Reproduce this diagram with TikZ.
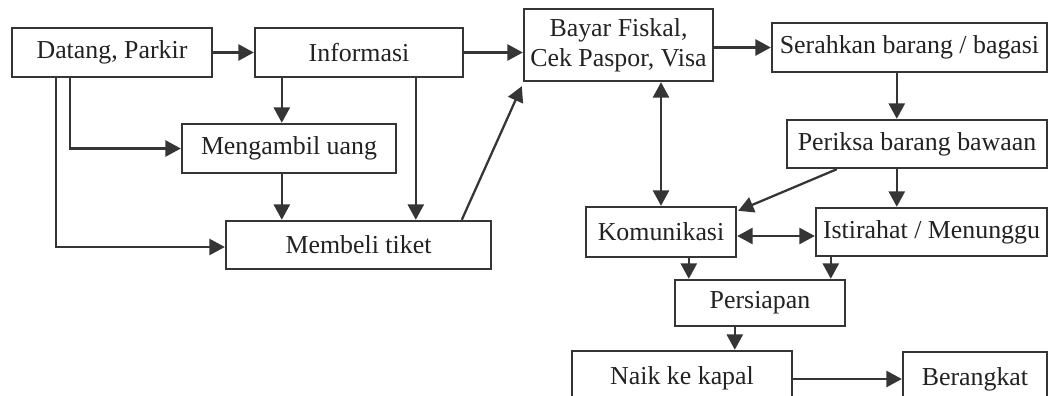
\documentclass[tikz,border=0pt]{standalone}
\usepackage{fontspec}
\setmainfont{Liberation Serif}
\usetikzlibrary{arrows.meta,calc}
\definecolor{ink}{HTML}{353535}
\definecolor{txt}{HTML}{222222}
\tikzset{
  bx/.style 2 args={draw=ink, line width=1.8pt, text=txt, inner sep=2pt, align=center,
    minimum width=#1*0.75pt, minimum height=#2*0.75pt,
    font=\fontsize{19.4}{22.5}\selectfont},
  tip/.tip={Triangle[length=11.5pt,width=12pt]},
  arr/.style={draw=ink, line width=1.7pt, -tip},
  darr/.style={draw=ink, line width=1.7pt, tip-tip}
}
\begin{document}
\begin{tikzpicture}[x=0.75pt,y=-0.75pt]
\useasboundingbox (0,0) rectangle (1050,396);
\clip (0,0) rectangle (1050,396);
\fill[white] (0,0) rectangle (1050,396);
% nodes
\node[bx={200}{49}] (dat) at (112,52.5) {Datang, Parkir};
\node[bx={208}{49}] (inf) at (359,52.5) {Informasi};
\node[bx={214}{49}] (ma) at (289,148.5) {Mengambil uang};
\node[bx={265}{48}] (mt) at (358.5,245) {Membeli tiket};
\node[bx={189}{72}] (bay) at (618.5,45) {Bayar Fiskal,\\Cek Paspor, Visa};
\node[bx={275}{49}] (ser) at (909.5,47.5) {Serahkan barang / bagasi};
\node[bx={260}{48}] (per) at (917,144) {Periksa barang bawaan};
\node[bx={150}{50}] (kom) at (661,232) {Komunikasi};
\node[bx={231}{48}] (ist) at (931.5,232) {Istirahat / Menunggu};
\node[bx={170}{46}] (psp) at (760,303) {Persiapan};
\node[bx={220}{55}] (naik) at (682,378.5) {Naik ke kapal};
\node[bx={144}{54}] (ber) at (975,379) {Berangkat};
% helper coordinates
\coordinate (d1) at ($(dat.south west)+(45,0)$);
\coordinate (d2) at ($(dat.south west)+(59,0)$);
\coordinate (i1) at ($(inf.south west)+(28,0)$);
\coordinate (i2) at ($(inf.south west)+(162,0)$);
\coordinate (m1) at ($(mt.north west)+(237,0)$);
\coordinate (mw) at ($(mt.west)+(0,2)$);
\coordinate (bsw) at ($(bay.south west)+(-1,4)$);
\coordinate (s1) at ($(ser.south west)+(126,0)$);
\coordinate (p1) at ($(per.south west)+(51,0)$);
\coordinate (p2) at ($(per.south west)+(111,0)$);
\coordinate (kne) at ($(kom.north east)+(1,5)$);
\coordinate (ke) at ($(kom.east)+(0,4)$);
\coordinate (k1) at ($(kom.south west)+(104,0)$);
\coordinate (t1) at ($(ist.south west)+(16,0)$);
\coordinate (q1) at ($(psp.south west)+(61,0)$);
% connectors
\draw[arr] (dat.east) -- (inf.west);
\draw[arr] (inf.east) -- (inf.east -| bay.west);
\draw[arr] (d1) |- (mw);
\draw[arr] (d2) |- (ma.west);
\draw[arr] (i1) -- (i1 |- ma.north);
\draw[arr] (ma.south -| i1) -- (i1 |- mt.north);
\draw[arr] (i2) -- (i2 |- mt.north);
\draw[arr] (m1) -- (bsw);
\draw[arr] (bay.east |- ser.west) -- (ser.west);
\draw[arr] (s1) -- (s1 |- per.north);
\draw[darr] (kom.north |- bay.south) -- (kom.north);
\draw[arr] (p1) -- (kne);
\draw[arr] (p2) -- (p2 |- ist.north);
\draw[darr] (ke) -- (ke -| ist.west);
\draw[arr] (k1) -- (k1 |- psp.north);
\draw[arr] (t1) -- (t1 |- psp.north);
\draw[arr] (q1) -- (q1 |- naik.north);
\draw[arr] (naik.east |- ber.west) -- (ber.west);
\end{tikzpicture}
\end{document}
